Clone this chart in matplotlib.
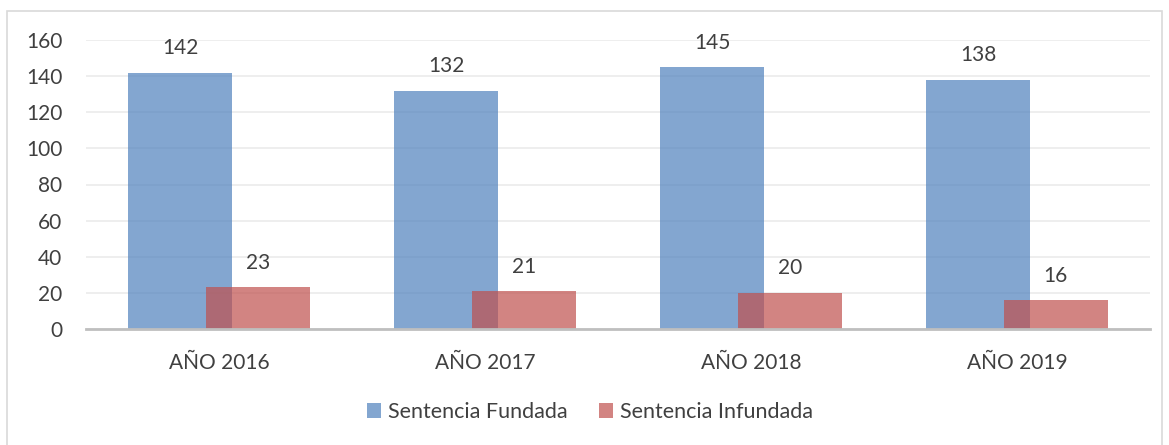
import numpy as np
import matplotlib.pyplot as plt
from matplotlib.patches import Rectangle

plt.rcParams['font.family'] = ['Lato', 'DejaVu Sans']

years = ['AÑO 2016', 'AÑO 2017', 'AÑO 2018', 'AÑO 2019']
fundada = [142, 132, 145, 138]
infundada = [23, 21, 20, 16]

blue = '#4F81BD'
red = '#C0504D'
txt = '#404040'

fig = plt.figure(figsize=(11.69, 4.45), dpi=100)
ax = fig.add_axes([86 / 1169, 1 - 329 / 445, 1064 / 1169, 289 / 445])

# border round the chart
fig.patches.append(Rectangle((7 / 1169, -0.01), 1155 / 1169, 1 - 11 / 445 + 0.01,
                             transform=fig.transFigure, fill=False,
                             edgecolor='#D9D9D9', linewidth=1.2))

x = np.arange(len(years))
w = 0.39
off = 0.146
b1 = ax.bar(x - off, fundada, w, color=blue, alpha=0.7, label='Sentencia Fundada', zorder=2)
b2 = ax.bar(x + off, infundada, w, color=red, alpha=0.7, label='Sentencia Infundada', zorder=3)

for bars, vals in ((b1, fundada), (b2, infundada)):
    for r, v in zip(bars, vals):
        ax.text(r.get_x() + r.get_width() / 2, v + 13.5, str(v), ha='center', va='center',
                fontsize=15, color=txt)

ax.set_xlim(-0.5, 3.5)
ax.set_ylim(0, 160)
ax.set_yticks(range(0, 161, 20))
ax.set_xticks(x)
ax.set_xticklabels(years)
ax.tick_params(axis='both', length=0, labelsize=15, labelcolor=txt)
ax.tick_params(axis='y', pad=17)
ax.tick_params(axis='x', pad=17)
ax.yaxis.grid(True, color='#EBEBEB', linewidth=1.2, zorder=0)
ax.set_axisbelow(True)
for s in ['top', 'right', 'left']:
    ax.spines[s].set_visible(False)
ax.spines['bottom'].set_color('#BFBFBF')
ax.spines['bottom'].set_linewidth(2)
ax.spines['bottom'].set_zorder(4)

fig.legend(handles=[b1, b2], loc='center', bbox_to_anchor=(590 / 1169, 1 - 412 / 445),
           ncol=2, frameon=False, fontsize=15.5, handlelength=0.65, handleheight=0.65,
           handletextpad=0.3, columnspacing=1.5, labelcolor=txt)

fig.savefig('out.png', dpi=100)
